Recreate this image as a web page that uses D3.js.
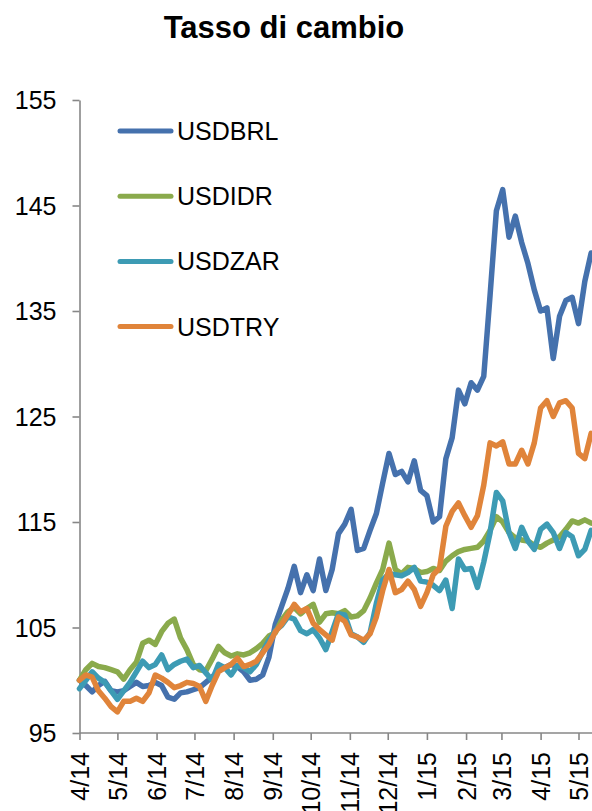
<!DOCTYPE html>
<html>
<head>
<meta charset="utf-8">
<script src="https://cdn.jsdelivr.net/npm/d3@7"></script>
<style>
  body { margin: 0; background: #fff; }
  svg { display: block; font-family: "Liberation Sans", Arial, sans-serif; }
</style>
</head>
<body>
<div id="chart"></div>
<script>
// series names and colours (legend order = draw order)
var seriesNames = ["USDBRL", "USDIDR", "USDZAR", "USDTRY"];
var seriesColors = ["#4571ad", "#8aaa4c", "#3d9bb4", "#e0843a"];

// observations every 5 days starting 1 Apr 2014
var startDate = "2014-04-01";
var stepDays = 5;

var usdbrl = [100.0, 99.5, 98.9, 99.5, 99.9, 99.0, 98.9, 99.0, 99.4, 99.8,
  99.4, 99.5, 99.8, 99.5, 98.4, 98.2, 98.8, 98.9, 99.1, 99.3,
  99.8, 100.3, 100.9, 101.2, 101.5, 101.3, 100.8, 100.0, 100.1, 100.5,
  102.2, 105.3, 107.0, 108.7, 110.8, 108.3, 110.0, 108.5, 111.5, 108.5,
  110.5, 113.9, 114.8, 116.2, 112.3, 112.5, 114.2, 115.8, 118.7, 121.5,
  119.5, 119.8, 118.8, 120.8, 118.0, 117.5, 115.0, 115.5, 121.0, 123.0,
  127.5, 126.2, 128.2, 127.5, 128.8, 136.5, 144.5, 146.5, 142.0, 144.0,
  141.5, 139.5, 137.0, 135.0, 135.3, 130.5, 134.5, 136.0, 136.3, 133.8,
  137.8, 140.5];

var usdidr = [100.0, 101.0, 101.6, 101.3, 101.2, 101.0, 100.8, 100.1, 101.0, 101.7,
  103.5, 103.8, 103.4, 104.6, 105.4, 105.8, 104.0, 102.9, 101.5, 101.0,
  100.9, 102.0, 103.2, 102.6, 102.3, 102.5, 102.4, 102.6, 103.0, 103.5,
  104.2, 104.5, 105.7, 106.5, 106.9, 106.3, 106.8, 107.2, 105.5, 106.3,
  106.4, 106.3, 106.6, 106.0, 106.1, 106.6, 107.8, 109.2, 110.5, 113.0,
  110.5, 110.1, 110.7, 110.6, 110.2, 110.3, 110.6, 110.4, 111.3, 111.8,
  112.2, 112.4, 112.5, 112.6, 113.2, 114.2, 115.5, 115.0, 114.0, 113.5,
  113.3, 113.2, 112.8, 112.6, 113.0, 113.3, 113.6, 114.3, 115.1, 114.9,
  115.2, 114.9];

var usdzar = [99.2, 100.0, 100.8, 100.2, 99.8, 99.0, 98.2, 99.0, 99.8, 100.8,
  101.8, 101.2, 101.5, 102.4, 101.0, 101.5, 101.8, 102.0, 101.2, 101.4,
  100.7, 100.0, 101.5, 101.2, 100.5, 101.4, 101.2, 100.8, 101.5, 102.7,
  103.8, 104.7, 105.2, 106.0, 105.8, 104.7, 104.4, 104.8, 104.0, 102.9,
  104.6, 106.3, 106.2, 104.4, 104.1, 103.6, 104.5, 107.3, 109.5, 110.1,
  110.0, 109.9, 110.2, 110.7, 109.4, 109.3, 109.0, 108.5, 109.5, 106.8,
  111.5, 110.5, 110.6, 108.8, 111.2, 114.0, 117.8, 117.0, 114.0, 112.5,
  114.5, 113.2, 112.4, 114.3, 114.8, 114.0, 112.5, 114.0, 113.6, 111.8,
  112.4, 114.2];

var usdtry = [100.0, 100.5, 100.3, 99.0, 98.3, 97.5, 97.0, 98.0, 98.0, 98.3,
  98.0, 98.8, 100.5, 100.2, 99.8, 99.3, 99.5, 99.8, 99.7, 99.4,
  98.0, 99.5, 100.8, 101.2, 101.5, 102.1, 101.3, 101.5, 101.8, 102.6,
  103.4, 104.6, 105.3, 106.2, 107.2, 106.5, 106.8, 105.4, 104.8, 104.3,
  103.8, 106.0, 105.6, 104.3, 104.1, 103.8, 104.4, 106.0, 108.5, 110.5,
  108.3, 108.6, 109.4, 108.6, 107.0, 108.3, 110.0, 110.6, 114.6, 116.0,
  116.8, 115.6, 114.5, 115.6, 118.5, 122.5, 122.2, 122.6, 120.5, 120.5,
  121.8, 120.5, 122.5, 125.8, 126.5, 125.0, 126.3, 126.5, 125.8, 121.5,
  121.0, 123.4];

var yTicks = [95, 105, 115, 125, 135, 145, 155];
var xTickMonths = ["2014-04-01", "2014-05-01", "2014-06-01", "2014-07-01", "2014-08-01",
  "2014-09-01", "2014-10-01", "2014-11-01", "2014-12-01", "2015-01-01", "2015-02-01",
  "2015-03-01", "2015-04-01", "2015-05-01"];

var width = 592, height = 811;
var parse = d3.timeParse("%Y-%m-%d");
var fmt = d3.timeFormat("%-m/%y");
var axisColor = "#878787";

var allSeries = [usdbrl, usdidr, usdzar, usdtry];
var start = parse(startDate);
var dates = usdbrl.map(function(d, i) { return d3.timeDay.offset(start, i * stepDays); });

var svg = d3.select("#chart").append("svg")
  .attr("width", width).attr("height", height);

var x = d3.scaleTime()
  .domain([parse("2014-04-01"), parse("2015-05-01")])
  .range([79.5, 578.5]);
var y = d3.scaleLinear().domain([95, 155]).range([733, 100]);

// title
svg.append("text")
  .attr("x", 284).attr("y", 38)
  .attr("text-anchor", "middle")
  .style("font-size", "31px").style("font-weight", "bold")
  .text("Tasso di cambio");

// y axis
var yAxis = svg.append("g").attr("transform", "translate(79.5,0)")
  .call(d3.axisLeft(y).tickValues(yTicks).tickSize(7).tickPadding(16).tickSizeOuter(0));
yAxis.select(".domain").attr("stroke", axisColor).attr("stroke-width", 1.6);
yAxis.selectAll(".tick line").attr("stroke", axisColor).attr("stroke-width", 1.6);
yAxis.selectAll(".tick text")
  .attr("fill", "#000").attr("dy", "0.34em")
  .style("font-size", "25px").style("font-family", "'Liberation Sans', Arial, sans-serif");

// x axis
var xAxis = svg.append("g").attr("transform", "translate(0,733)")
  .call(d3.axisBottom(x).tickValues(xTickMonths.map(parse)).tickFormat(fmt)
    .tickSize(7).tickSizeOuter(0));
xAxis.select(".domain").attr("d", "M79.5,0H" + width)
  .attr("stroke", axisColor).attr("stroke-width", 1.6);
xAxis.selectAll(".tick line").attr("stroke", axisColor).attr("stroke-width", 1.6);
xAxis.selectAll(".tick text")
  .attr("fill", "#000")
  .attr("text-anchor", "end")
  .attr("transform", "rotate(-90)")
  .attr("x", -19).attr("y", 0).attr("dy", "0.36em")
  .style("font-size", "25px").style("font-family", "'Liberation Sans', Arial, sans-serif");

// lines
var line = d3.line()
  .x(function(d, i) { return x(dates[i]); })
  .y(function(d) { return y(d); });

svg.append("g").selectAll("path").data(allSeries).enter().append("path")
  .attr("d", line)
  .attr("fill", "none")
  .attr("stroke", function(d, i) { return seriesColors[i]; })
  .attr("stroke-width", 5.5)
  .attr("stroke-linejoin", "round")
  .attr("stroke-linecap", "round");

// legend
var legend = svg.append("g").selectAll("g").data(seriesNames).enter().append("g")
  .attr("transform", function(d, i) { return "translate(0," + (131 + i * 65.2) + ")"; });
legend.append("line")
  .attr("x1", 120).attr("x2", 171).attr("y1", 0).attr("y2", 0)
  .attr("stroke", function(d, i) { return seriesColors[i]; })
  .attr("stroke-width", 5).attr("stroke-linecap", "round");
legend.append("text")
  .attr("x", 177).attr("y", 9)
  .style("font-size", "25px")
  .text(function(d) { return d; });
</script>
</body>
</html>
